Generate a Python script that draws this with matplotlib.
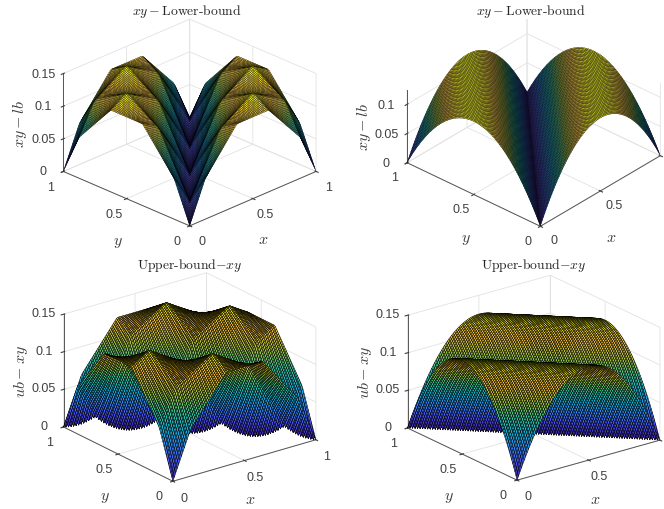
import numpy as np
import matplotlib
matplotlib.use("Agg")
import matplotlib.pyplot as plt
from matplotlib.colors import LinearSegmentedColormap

plt.rcParams['font.family'] = ['Liberation Sans', 'DejaVu Sans']
plt.rcParams['mathtext.fontset'] = 'cm'

arch_half = [.0000, .0050, .0098, .0146, .0192, .0238, .0282, .0326, .0368, .0410, .0450,
             .0490, .0528, .0566, .0602, .0638, .0672, .0706, .0738, .0770, .0800,
             .0830, .0858, .0886, .0912, .0938, .0962, .0986, .1008, .1030, .1050,
             .1070, .1088, .1106, .1122, .1138, .1152, .1166, .1178, .1190, .1200,
             .1210, .1218, .1226, .1232, .1238, .1242, .1246, .1248, .1250, .1250]
scallop = [.00000, .00005, .00020, .00045, .00080, .00125, .00180, .00245, .00320,
           .00405, .00500, .00605, .00720, .00720, .00605, .00500, .00405, .00320,
           .00245, .00180, .00125, .00080, .00045, .00020, .00005]

titles = [r'$xy-$Lower-bound', r'$xy-$Lower-bound', r'Upper-bound$-xy$', r'Upper-bound$-xy$']
zlabels = [r'$xy-lb$', r'$xy-lb$', r'$ub-xy$', r'$ub-xy$']
zticks = [[0, .05, .1, .15], [0, .05, .1], [0, .05, .1, .15], [0, .05, .1, .15]]
zticklabels = [['0', '0.05', '0.1', '0.15'], ['0', '0.05', '0.1'],
               ['0', '0.05', '0.1', '0.15'], ['0', '0.05', '0.1', '0.15']]
xticklabels = [['0', '0.5', '1'], ['0', '0.5', ''], ['0', '0.5', '1'], ['0', '0.5', '']]
ztop = [.15, .125, .15, .15]

# view and layout of each panel, pixels from the top left of the image
azim = [-135, -138, -127.4, -127.5]
elev = [25.5, 32, 22.3, 21.4]
zratio = [.607, .48, .677, .673]
edge_px = [178.7, 179.3, 180, 180]
mesh_width = [.2, .2, .36, .36]
center_x = [189.7, 533.7, 189.7, 533.7]
center_y = [123.5, 123.7, 378, 378.7]
title_xy = [(187, 11), (531, 11), (190, 266), (534, 266)]
xlabel_xy = [(263, 240), (611, 237), (250, 500), (595, 500)]
ylabel_xy = [(118, 243), (466, 240), (105, 498), (449, 498)]
zlabel_xy = [(20, 124), (364, 127), (21, 372), (365, 373)]

parula = LinearSegmentedColormap.from_list("parula", [
    (.2422, .1504, .6603), (.2810, .3228, .9579), (.1786, .5289, .9682), (.0689, .6948, .8394),
    (.2161, .7843, .5923), (.6720, .7793, .2227), (.9970, .7659, .2199), (.9769, .9839, .0805)])

# full profiles, mirrored and repeated from the tables
arch = np.array(arch_half + arch_half[-2::-1])
arch2 = np.concatenate([arch, arch[1:]])
ripple = np.array(scallop * 4 + [scallop[0]])

I, J = np.indices((101, 101))
X = J / 100
Y = I / 100
diff = np.abs(I - J)
total = I + J
surfaces = [arch[diff] + ripple[I] + ripple[J], arch[diff],
            arch2[total] + ripple[I] + ripple[J], arch2[total]]

W_PX, H_PX = 664, 510
fig = plt.figure(figsize=(W_PX / 100, H_PX / 100), dpi=100)

for n in range(4):
    norm = np.sqrt(2 + zratio[n] ** 2)
    size = edge_px[n] * norm / 1.030
    left = center_x[n] - .5135 * size
    bottom = H_PX - center_y[n] - .5135 * size
    ax = fig.add_axes([left / W_PX, bottom / H_PX, size / W_PX, size / H_PX],
                      projection='3d', proj_type='ortho')
    ax.patch.set_alpha(0)
    ax.view_init(elev=elev[n], azim=azim[n])
    ax.set_box_aspect((1, 1, zratio[n]))
    ax.plot_surface(X, Y, surfaces[n], rstride=1, cstride=1, cmap=parula,
                    edgecolor='k', linewidth=mesh_width[n], shade=False, antialiased=True)
    ax.set_xlim(0, 1, view_margin=0)
    ax.set_ylim(0, 1, view_margin=0)
    ax.set_zlim(0, ztop[n], view_margin=0)

    ax.set_xticks([0, .5, 1])
    ax.set_xticklabels(xticklabels[n], va='center')
    ax.set_yticks([0, .5, 1])
    ax.set_yticklabels(['0', '0.5', '1'], va='center')
    ax.set_zticks(zticks[n])
    ax.set_zticklabels(zticklabels[n], va='center')
    ax.tick_params(labelsize=9, colors='#404040', length=2, width=.5)
    ax.tick_params(axis='x', pad=2)
    ax.tick_params(axis='y', pad=2)
    ax.tick_params(axis='z', pad=0)

    for axis in (ax.xaxis, ax.yaxis, ax.zaxis):
        axis.set_pane_color((1, 1, 1, 0))
        axis.pane.set_edgecolor('#dedede')
        axis.pane.set_linewidth(.6)
        axis.line.set_color('#555555')
        axis.line.set_linewidth(.7)
        axis._axinfo['grid'].update(color='#e2e2e2', linewidth=.6)

    fig.text(title_xy[n][0] / W_PX, 1 - title_xy[n][1] / H_PX, titles[n], family='cmr10',
             fontsize=9.8, color='#262626', ha='center', va='center')
    fig.text(xlabel_xy[n][0] / W_PX, 1 - xlabel_xy[n][1] / H_PX, '$x$', fontsize=11.5,
             color='#404040', ha='center', va='center')
    fig.text(ylabel_xy[n][0] / W_PX, 1 - ylabel_xy[n][1] / H_PX, '$y$', fontsize=11.5,
             color='#404040', ha='center', va='center')
    fig.text(zlabel_xy[n][0] / W_PX, 1 - zlabel_xy[n][1] / H_PX, zlabels[n], fontsize=11.5,
             color='#404040', ha='center', va='center', rotation=90)

fig.savefig("out.png", dpi=100)
